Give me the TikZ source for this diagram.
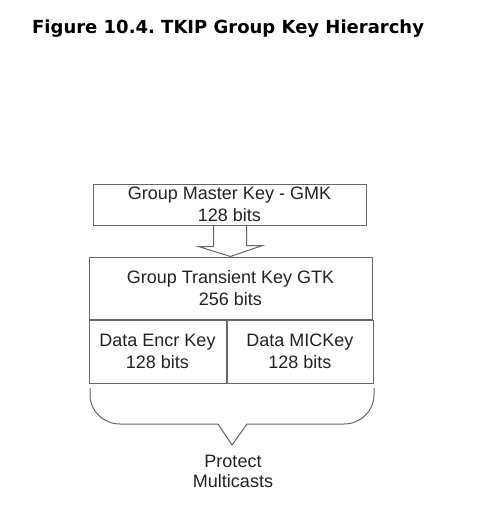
\documentclass[tikz,border=0pt]{standalone}
\usepackage{fontspec}
\setmainfont{Liberation Sans}
\newfontfamily\titlefont{DejaVu Sans}
\usetikzlibrary{positioning}
\frenchspacing

\definecolor{linegray}{HTML}{666666}
\definecolor{textgray}{HTML}{222222}

\tikzset{
    keybox/.style={draw=linegray, line width=1pt, rectangle, inner sep=0pt,
        align=center, text=textgray, font=\fontsize{18}{22}\selectfont},
    plain/.style={align=center, text=textgray, font=\fontsize{18}{20}\selectfont}
}

\begin{document}
\begin{tikzpicture}[x=1pt,y=-1pt]

    \useasboundingbox (0,0) rectangle (500,509);

    \node[anchor=base west, inner sep=0pt, font=\titlefont\bfseries\fontsize{18}{20}\selectfont] (title) at (32,33)
        {Figure 10.4. TKIP Group Key Hierarchy};

    % key boxes
    \node[keybox, minimum width=273pt, minimum height=41pt] (gmk) at (229.5,204.5)
        {Group Master Key - GMK\\128 bits};
    \node[keybox, minimum width=283pt, minimum height=62pt] (gtk) at (230.5,288)
        {Group Transient Key GTK\\256 bits};
    \node[keybox, minimum width=137pt, minimum height=63pt, anchor=north west] (encr) at (gtk.south west)
        {Data Encr Key\\128 bits};
    \node[keybox, minimum width=146pt, minimum height=63pt, anchor=north west] (mic) at (encr.north east)
        {Data MICKey\\128 bits};

    % hollow arrow from GMK to GTK
    \draw[linegray, line width=1pt, line join=miter]
        (gmk.south) ++(-16,0) -- ++(0,21) -- ++(-15,0) -- (gtk.north) -- ++(32,-11) -- ++(-16,0) -- ++(0,-21);

    % brace under the keys
    \draw[linegray, line width=1pt]
        (90,388) -- (90,395) arc[start angle=180, end angle=270, x radius=30, y radius=-29]
        -- (218,424) -- (232,445) coordinate (tip) -- (247,424) -- (344,424)
        arc[start angle=270, end angle=360, x radius=30, y radius=-29] -- (374,388);

    \node[plain] (protect) at (233,471) {Protect\\Multicasts};

\end{tikzpicture}
\end{document}
